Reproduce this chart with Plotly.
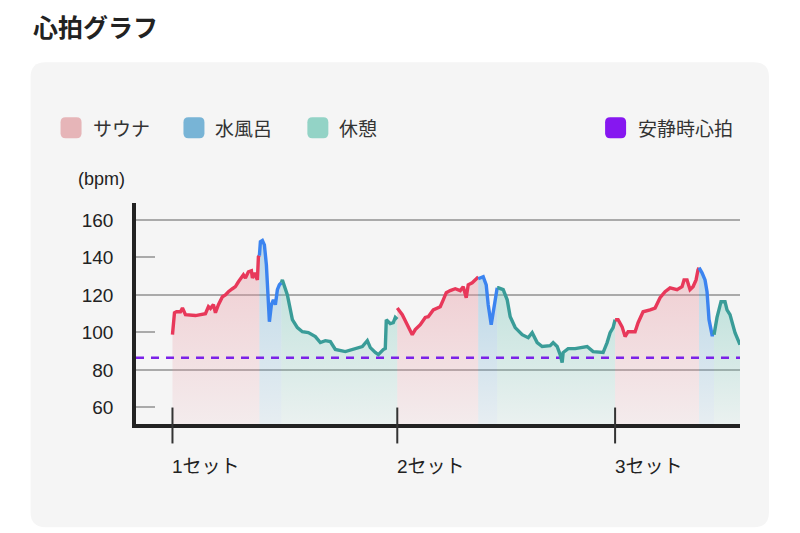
import plotly.graph_objects as go

# ---------------- data (time in minutes, heart rate in bpm) ----------------
SAUNA1_T = [0, 0.4, 0.8, 1.6, 2.0, 2.6, 4.6, 6.6, 7.2, 7.6, 8.2, 8.6, 9.2, 10.0, 10.6, 11.2, 12.0, 12.6,
            13.2, 13.8, 14.2, 14.6, 15.2, 15.8, 16.0, 16.4, 17.0, 17.2, 17.4]
SAUNA1_BPM = [98.8, 110.5, 111, 111, 113, 109.5, 109, 110, 113.8, 112.8, 114.8, 110.5, 114.8, 119, 120,
              121.7, 123.3, 124.4, 127, 129.7, 130.7, 129, 132.3, 132.9, 129, 131.8, 128, 140.3, 141]
COLD1_T = [17.4, 17.6, 18.0, 18.4, 18.8, 19.2, 19.4, 19.8, 20.2, 20.6, 21.0, 21.4, 21.8]
COLD1_BPM = [141, 148.3, 149, 146.7, 136, 117.4, 105.7, 114.8, 117.4, 114.8, 122.8, 125.4, 126.5]
REST1_T = [21.8, 22.0, 23.0, 24.0, 25.0, 26.0, 27.2, 28.6, 29.6, 30.6, 31.6, 32.0, 32.6, 34.6, 36.6,
           38.0, 39.0, 39.6, 40.6, 41.2, 42.2, 42.6, 42.8, 43.6, 44.2, 44.6, 45.0]
REST1_BPM = [126.5, 128, 120, 106.8, 102.6, 100.4, 99.9, 97.8, 94.6, 95.6, 95.1, 93.5, 90.9, 89.8, 91.4,
             92.5, 95.6, 91.9, 89.3, 88.2, 90.9, 91.5, 106.8, 104.7, 105.2, 108, 107]

SAUNA2_T = [45.0, 46.0, 47.0, 48.0, 48.6, 49.6, 50.6, 51.2, 52.2, 53.0, 53.6, 54.2, 54.8, 55.6, 56.6,
            57.6, 58.2, 58.8, 59.2, 60.0, 60.6, 61.0, 61.2]
SAUNA2_BPM = [113, 109.5, 104.1, 98.8, 101.5, 104.1, 108, 108.4, 112, 113, 113.7, 117.4, 121.2, 122.3,
              123.3, 122.3, 124.4, 118.5, 125.4, 126.5, 128, 129, 128.6]
COLD2_T = [61.2, 62.2, 62.8, 63.2, 63.8, 64.2, 64.8, 65.0]
COLD2_BPM = [128.6, 129.7, 125.4, 114.8, 104.1, 111, 121.7, 123.8]
REST2_T = [65.0, 65.2, 66.2, 67.0, 67.6, 68.6, 70.0, 71.2, 72.0, 73.0, 74.0, 75.6, 76.2, 77.0, 77.6,
           78.0, 78.2, 79.2, 80.6, 81.6, 83.0, 84.2, 86.2, 87.0, 87.6, 88.2, 88.6]
REST2_BPM = [123.8, 123.8, 122.8, 117.4, 108.4, 102.6, 98.8, 97.2, 99.9, 94.6, 92.5, 93, 94.6, 92.5,
             88.2, 84, 89.3, 91.4, 91.4, 91.9, 92.5, 89.8, 89.3, 94.6, 99.9, 102.6, 106.8]

SAUNA3_T = [88.6, 89.2, 90.0, 90.6, 91.2, 92.6, 93.2, 94.2, 95.6, 96.6, 97.6, 98.6, 99.6, 101.0,
            102.0, 102.4, 103.0, 103.6, 104.2, 104.8, 105.2, 105.4]
SAUNA3_BPM = [106.8, 106.8, 103, 97.8, 100.4, 100.4, 105.2, 111, 112, 113, 118.5, 121.7, 123.8, 122.8,
              124.4, 128, 128, 122.8, 124.4, 128, 133.4, 134.5]
COLD3_T = [105.4, 106.0, 106.6, 107.0, 107.4, 108.0, 108.4]
COLD3_BPM = [134.5, 131.8, 128, 121.7, 106.8, 98.8, 98.8]
REST3_T = [108.4, 109.0, 109.8, 110.6, 111.0, 111.6, 112.6, 113.2, 113.6]
REST3_BPM = [98.8, 108, 116.4, 116.4, 112, 109.5, 99.9, 96, 93.5]

RESTING_HR = 86.5
SET_STARTS = [0, 45.0, 88.6]
SET_LABELS = ["1セット", "2セット", "3セット"]
Y_TICKS = [60, 80, 100, 120, 140, 160]
GRID_VALS = [80, 120, 160]
X_RANGE = [-7.3, 113.6]
Y_RANGE = [51.2, 169.0]

PHASE_NAMES = ["サウナ", "水風呂", "休憩"]
LEGEND_REST = "安静時心拍"

# ---------------- styles ----------------
LINE_COL = {"サウナ": "#e8385a", "水風呂": "#3b84f0", "休憩": "#3a9c98"}
FILL_RGB = {"サウナ": (232, 150, 160), "水風呂": (100, 170, 210), "休憩": (110, 195, 180)}
FILL_A = {"サウナ": (0.10, 0.42), "水風呂": (0.10, 0.40), "休憩": (0.08, 0.38)}
SWATCH_COL = {"サウナ": "#e6b5b8", "水風呂": "#78b4d6", "休憩": "#93d3c6", LEGEND_REST: "#8617f0"}
REST_LINE_COL = "#7b22e8"
FONT = "Liberation Sans, Noto Sans CJK JP, sans-serif"
JFONT = "Noto Sans CJK JP, sans-serif"

segments = [
    ("サウナ", SAUNA1_T, SAUNA1_BPM), ("水風呂", COLD1_T, COLD1_BPM), ("休憩", REST1_T, REST1_BPM),
    ("サウナ", SAUNA2_T, SAUNA2_BPM), ("水風呂", COLD2_T, COLD2_BPM), ("休憩", REST2_T, REST2_BPM),
    ("サウナ", SAUNA3_T, SAUNA3_BPM), ("水風呂", COLD3_T, COLD3_BPM), ("休憩", REST3_T, REST3_BPM),
]

# plot area in pixels
W, H = 800, 533
PL, PR, PT, PB = 135.5, 740, 203, 424.5


def pxx(x):
    return (x - PL) / (PR - PL)


def pxy(y):
    return (PB - y) / (PB - PT)


def rrect(x0, y0, x1, y1, r):
    pts = [("M", [(x0 + r, y0)]), ("L", [(x1 - r, y0)]), ("Q", [(x1, y0), (x1, y0 + r)]),
           ("L", [(x1, y1 - r)]), ("Q", [(x1, y1), (x1 - r, y1)]), ("L", [(x0 + r, y1)]),
           ("Q", [(x0, y1), (x0, y1 - r)]), ("L", [(x0, y0 + r)]), ("Q", [(x0, y0), (x0 + r, y0)])]
    s = ""
    for cmd, ps in pts:
        s += cmd + " " + " ".join(f"{pxx(a):.5f},{pxy(b):.5f}" for a, b in ps) + " "
    return s + "Z"


fig = go.Figure()

# fills
for name, t, v in segments:
    r, g, b = FILL_RGB[name]
    a0, a1 = FILL_A[name]
    fig.add_trace(go.Scatter(
        x=t, y=v, mode="none", fill="tozeroy", hoverinfo="skip",
        fillgradient=dict(type="vertical", start=Y_RANGE[0], stop=max(v),
                          colorscale=[[0, f"rgba({r},{g},{b},{a0})"], [1, f"rgba({r},{g},{b},{a1})"]]),
        showlegend=False))

# resting heart rate line
fig.add_trace(go.Scatter(x=X_RANGE, y=[RESTING_HR, RESTING_HR], mode="lines",
                         line=dict(color=REST_LINE_COL, width=2.6, dash="8px,7px"),
                         hoverinfo="skip", showlegend=False))

# heart-rate lines
for name, t, v in segments:
    fig.add_trace(go.Scatter(x=t, y=v, mode="lines", line=dict(color=LINE_COL[name], width=3.4),
                             showlegend=False, name=name))

shapes = []
# card background
shapes.append(dict(type="path", xref="paper", yref="paper", path=rrect(30, 62, 769, 528, 15),
                   fillcolor="#f5f5f5", line=dict(width=0), layer="below"))
# legend swatches
legend_items = [(PHASE_NAMES[0], 60, 90), (PHASE_NAMES[1], 183, 213), (PHASE_NAMES[2], 307, 337),
                (LEGEND_REST, 605, 636)]
annotations = []
for label, sx, tx in legend_items:
    shapes.append(dict(type="path", xref="paper", yref="paper", path=rrect(sx, 117, sx + 21, 138, 5),
                       fillcolor=SWATCH_COL[label], line=dict(width=0), layer="above"))
    annotations.append(dict(text=label, xref="paper", yref="paper", x=pxx(tx), y=pxy(127.5),
                            xanchor="left", yanchor="middle", showarrow=False,
                            font=dict(family=JFONT, size=19, color="#333")))
# set ticks
for s in SET_STARTS:
    shapes.append(dict(type="line", xref="x", yref="paper", x0=s, x1=s, y0=pxy(444), y1=pxy(408),
                       line=dict(color="#333", width=2), layer="above"))
for s, lab in zip(SET_STARTS, SET_LABELS):
    annotations.append(dict(text=lab, xref="x", yref="paper", x=s, y=pxy(467), xanchor="left",
                            yanchor="middle", showarrow=False, xshift=-2,
                            font=dict(family=FONT, size=19, color="#222")))

annotations.append(dict(text="<b>心拍グラフ</b>", xref="paper", yref="paper", x=pxx(30), y=pxy(26),
                        xanchor="left", yanchor="middle", showarrow=False,
                        font=dict(family=JFONT, size=25, color="#222")))
annotations.append(dict(text="(bpm)", xref="paper", yref="paper", x=pxx(75), y=pxy(179),
                        xanchor="left", yanchor="middle", showarrow=False,
                        font=dict(family=FONT, size=18, color="#222")))

fig.update_layout(
    width=W, height=H, margin=dict(l=PL, r=W - PR, t=PT, b=H - PB),
    paper_bgcolor="white", plot_bgcolor="rgba(0,0,0,0)", showlegend=False,
    shapes=shapes, annotations=annotations, font=dict(family=FONT, color="#222"),
)
fig.update_xaxes(range=X_RANGE, showline=True, linecolor="#222", linewidth=3.5, showgrid=False,
                 zeroline=False, showticklabels=False, ticks="")
fig.update_yaxes(range=Y_RANGE, tickvals=Y_TICKS, showline=True, linecolor="#222", linewidth=3.5,
                 ticks="inside", ticklen=19, tickcolor="#aaa", tickwidth=1.5, showgrid=False,
                 zeroline=False, ticklabelstandoff=15, tickfont=dict(size=19, color="#222"),
                 minor=dict(tickvals=GRID_VALS, showgrid=True, gridcolor="#aaa", gridwidth=1.5, ticks=""))

fig.write_html("out.html")
